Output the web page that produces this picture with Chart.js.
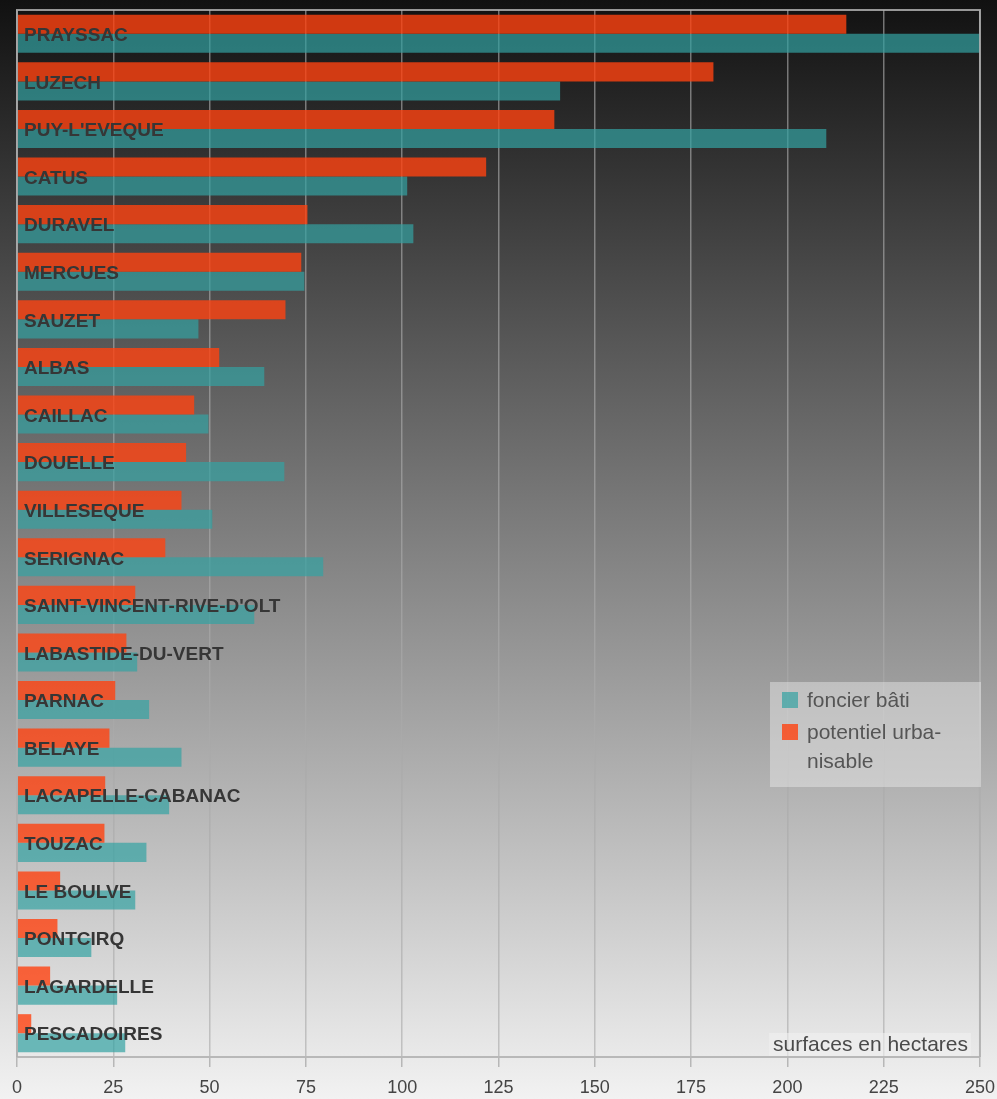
<!DOCTYPE html>
<html lang="fr">
<head>
  <meta charset="UTF-8" />
  <title>Foncier bâti et potentiel urbanisable</title>
  <script src="https://cdn.jsdelivr.net/npm/chart.js"></script>
  <style>
    html, body {
      margin: 0;
      padding: 0;
    }
    body {
      width: 997px;
      height: 1099px;
      overflow: hidden;
      background: linear-gradient(to bottom, #111111 0%, #f2f2f2 100%);
      font-family: 'Liberation Sans', Arial, sans-serif;
    }
    canvas {
      display: block;
    }
  </style>
</head>
<body>
  <canvas id="surfChart" width="997" height="1099"></canvas>

  <script>
    const communes = [
      'PRAYSSAC', 'LUZECH', "PUY-L'EVEQUE", 'CATUS', 'DURAVEL', 'MERCUES',
      'SAUZET', 'ALBAS', 'CAILLAC', 'DOUELLE', 'VILLESEQUE', 'SERIGNAC',
      "SAINT-VINCENT-RIVE-D'OLT", 'LABASTIDE-DU-VERT', 'PARNAC', 'BELAYE',
      'LACAPELLE-CABANAC', 'TOUZAC', 'LE BOULVE', 'PONTCIRQ', 'LAGARDELLE',
      'PESCADOIRES'
    ];

    // surfaces en hectares
    const potentielUrbanisable = [
      215.3, 180.8, 139.5, 121.8, 75.4, 73.8,
      69.7, 52.5, 46.0, 43.9, 42.7, 38.5,
      30.7, 28.4, 25.5, 24.0, 22.9, 22.7,
      11.2, 10.5, 8.6, 3.7
    ];
    const foncierBati = [
      250, 141.0, 210.1, 101.3, 102.9, 74.6,
      47.1, 64.2, 49.7, 69.4, 50.7, 79.5,
      61.6, 31.2, 34.3, 42.7, 39.5, 33.6,
      30.7, 19.3, 26.0, 28.1
    ];

    const xTicks = [0, 25, 50, 75, 100, 125, 150, 175, 200, 225, 250];
    const legendEntries = [
      { lines: ['foncier bâti'], color: 'rgba(51,163,163,0.7)' },
      { lines: ['potentiel urba-', 'nisable'], color: 'rgba(255,66,16,0.8)' }
    ];
    const unitNote = 'surfaces en hectares';

    const gridColor = 'rgba(170,170,170,0.64)';

    // frame around the plot area + commune names over the bars
    const decorations = {
      id: 'decorations',
      afterDatasetsDraw(chart) {
        const { ctx, chartArea, scales } = chart;
        ctx.save();
        ctx.strokeStyle = 'rgba(175,175,175,0.85)';
        ctx.lineWidth = 2;
        ctx.beginPath();
        ctx.moveTo(chartArea.left, chartArea.bottom);
        ctx.lineTo(chartArea.left, chartArea.top);
        ctx.lineTo(chartArea.right, chartArea.top);
        ctx.lineTo(chartArea.right, chartArea.bottom);
        ctx.stroke();

        ctx.font = 'bold 19px "Liberation Sans", Arial, sans-serif';
        ctx.fillStyle = '#363636';
        ctx.textAlign = 'left';
        ctx.textBaseline = 'middle';
        communes.forEach((name, i) => {
          const y = scales.y.getPixelForValue(i);
          ctx.fillText(name, chartArea.left + 7, y + 2);
        });
        ctx.restore();
      },
      afterDraw(chart) {
        const { ctx, chartArea } = chart;
        ctx.save();

        // legend box
        const bx = 770, by = 682, bw = 211, bh = 105;
        ctx.fillStyle = 'rgba(235,235,235,0.45)';
        ctx.fillRect(bx, by, bw, bh);
        ctx.font = '21px "Liberation Sans", Arial, sans-serif';
        ctx.textBaseline = 'middle';
        ctx.textAlign = 'left';
        let y = by + 18;
        legendEntries.forEach(entry => {
          ctx.fillStyle = entry.color;
          ctx.fillRect(bx + 12, y - 8, 16, 16);
          ctx.fillStyle = '#555555';
          entry.lines.forEach(line => {
            ctx.fillText(line, bx + 37, y + 1);
            y += 29;
          });
          y += 3;
        });

        // unit note in the lower right corner
        ctx.font = '21px "Liberation Sans", Arial, sans-serif';
        const w = ctx.measureText(unitNote).width;
        const right = chartArea.right - 12;
        ctx.fillStyle = 'rgba(240,240,240,0.6)';
        ctx.fillRect(right - w - 4, chartArea.bottom - 24, w + 7, 23);
        ctx.fillStyle = '#4a4a4a';
        ctx.textAlign = 'right';
        ctx.textBaseline = 'alphabetic';
        ctx.fillText(unitNote, right, chartArea.bottom - 6);
        ctx.restore();
      }
    };

    new Chart(document.getElementById('surfChart'), {
      type: 'bar',
      data: {
        labels: communes,
        datasets: [
          {
            label: 'potentiel urbanisable',
            data: potentielUrbanisable,
            backgroundColor: 'rgba(255,66,16,0.8)',
            borderWidth: 0
          },
          {
            label: 'foncier bâti',
            data: foncierBati,
            backgroundColor: 'rgba(51,163,163,0.7)',
            borderWidth: 0
          }
        ]
      },
      options: {
        indexAxis: 'y',
        responsive: false,
        animation: false,
        categoryPercentage: 0.8,
        barPercentage: 1.0,
        layout: {
          padding: { left: 17, right: 17, top: 10, bottom: 0 }
        },
        plugins: {
          legend: { display: false },
          tooltip: { enabled: false }
        },
        scales: {
          x: {
            min: 0,
            max: 250,
            afterBuildTicks(scale) {
              scale.ticks = xTicks.map(v => ({ value: v }));
            },
            afterFit(scale) {
              scale.height = 42;
            },
            ticks: {
              color: '#444444',
              padding: 2,
              font: { family: '"Liberation Sans", Arial, sans-serif', size: 18, lineHeight: 2.1 }
            },
            grid: {
              color: gridColor,
              tickColor: 'rgba(170,170,170,0.8)',
              tickLength: 10,
              lineWidth: 1.5
            },
            border: {
              color: 'rgba(175,175,175,0.85)',
              width: 2
            }
          },
          y: {
            display: false
          }
        }
      },
      plugins: [decorations]
    });
  </script>
</body>
</html>
